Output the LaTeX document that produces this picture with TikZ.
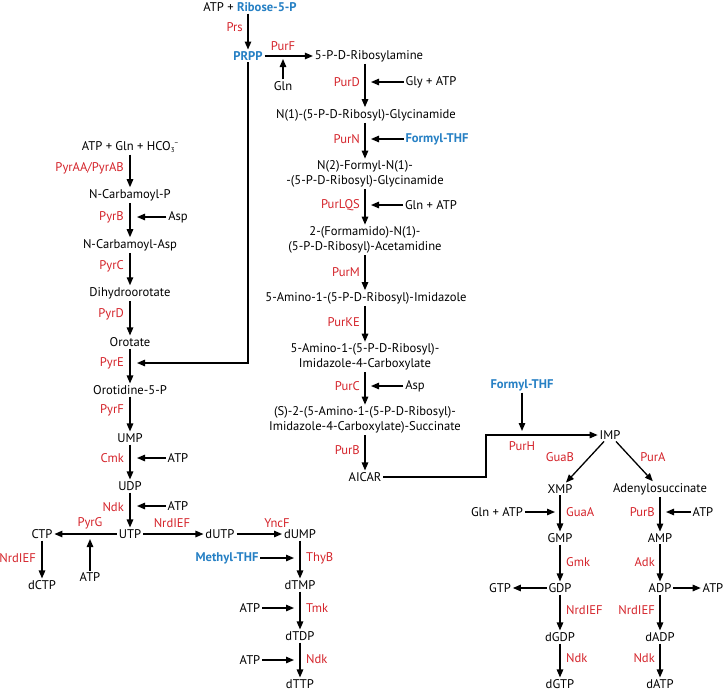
\documentclass[tikz,border=0pt]{standalone}
\usepackage{fontspec}
\setmainfont{PT Sans}
\usetikzlibrary{arrows.meta}
\definecolor{ered}{RGB}{212,35,42}
\definecolor{mblue}{RGB}{38,128,196}
\begin{document}
\begin{tikzpicture}[x=1pt,y=-1pt,
  font=\fontsize{12.6}{15}\selectfont,
  met/.style={inner sep=1.8pt, text=black},
  enz/.style={text=ered, inner sep=0pt},
  enzl/.style={enz, anchor=east},
  enzr/.style={enz, anchor=west},
  cof/.style={met, text=mblue, font=\fontsize{12.6}{15}\selectfont\bfseries},
  arr/.style={-{Triangle[length=8pt,width=6.5pt]}, line width=1.3pt},
]
\useasboundingbox (0,0) rectangle (728,691);

% ---------- top: PRPP ----------
\node[met] (atprib) at (250,7) {ATP + \textcolor{mblue}{\bfseries Ribose-5-P}};
\node[cof] (prpp) at (248,56) {PRPP};
\draw[arr] (atprib.south -| prpp.north) -- (prpp.north);
\node[enzl] (eprs) at (243,27) {Prs};
\node[met] (ribam) at (369,56) {5-P-D-Ribosylamine};
\draw[arr] (prpp) -- (ribam);
\node[enz] (epurf) at (283,46) {PurF};
\node[met] (gln1) at (283,86) {Gln};
\coordinate (cpurf) at (283,59);
\draw[arr] (gln1) -- (cpurf);

% ---------- purine column ----------
\coordinate (mx) at (365,0);
\node[met] (glyc) at (366,115) {N(1)-(5-P-D-Ribosyl)-Glycinamide};
\draw[arr] (ribam.south -| mx) -- (glyc.north -| mx);
\node[enzl] (epurd) at (360,82) {PurD};
\node[met] (glyatp) at (431,82) {Gly + ATP};
\coordinate (cpurd) at (371,82);
\draw[arr] (glyatp) -- (cpurd);

\node[met,align=center] (fglyc) at (365,174) {N(2)-Formyl-N(1)-\\-(5-P-D-Ribosyl)-Glycinamide};
\draw[arr] (glyc.south -| mx) -- (fglyc.north -| mx);
\node[enzl] (epurn) at (360,139) {PurN};
\node[cof] (fthf1) at (437,139) {Formyl-THF};
\coordinate (cpurn) at (371,139);
\draw[arr] (fthf1) -- (cpurn);

\node[met,align=center] (formam) at (365,240) {2-(Formamido)-N(1)-\\(5-P-D-Ribosyl)-Acetamidine};
\draw[arr] (fglyc.south -| mx) -- (formam.north -| mx);
\node[enzl] (epurlqs) at (360,205) {PurLQS};
\node[met] (glnatp1) at (431,205) {Gln + ATP};
\coordinate (cpurlqs) at (371,205);
\draw[arr] (glnatp1) -- (cpurlqs);

\node[met] (air) at (366,298) {5-Amino-1-(5-P-D-Ribosyl)-Imidazole};
\draw[arr] (formam.south -| mx) -- (air.north -| mx);
\node[enzl] (epurm) at (360,272) {PurM};

\node[met,align=center] (cair) at (365,357) {5-Amino-1-(5-P-D-Ribosyl)-\\Imidazole-4-Carboxylate};
\draw[arr] (air.south -| mx) -- (cair.north -| mx);
\node[enzl] (epurke) at (360,322) {PurKE};

\node[met,align=center] (saicar) at (365,420) {(S)-2-(5-Amino-1-(5-P-D-Ribosyl)-\\Imidazole-4-Carboxylate)-Succinate};
\draw[arr] (cair.south -| mx) -- (saicar.north -| mx);
\node[enzl] (epurc) at (360,386) {PurC};
\node[met] (asp2) at (415,386) {Asp};
\coordinate (cpurc) at (371,386);
\draw[arr] (asp2) -- (cpurc);

\node[met] (aicar) at (365,477) {AICAR};
\draw[arr] (saicar.south -| mx) -- (aicar.north -| mx);
\node[enzl] (epurb) at (360,450) {PurB};

% ---------- IMP branch ----------
\node[met] (imp) at (610,435) {IMP};
\coordinate (k1) at (486,477);
\coordinate (k2) at (486,435);
\draw[arr] (aicar) -- (k1) -- (k2) -- (imp);
\node[cof] (fthf2) at (522,385) {Formyl-THF};
\coordinate (cpurh) at (522,431);
\draw[arr] (fthf2) -- (cpurh);
\node[enz] (epurh) at (522,446) {PurH};

\node[met] (xmp) at (560,489) {XMP};
\node[met] (adsucc) at (660,489) {Adenylosuccinate};
\draw[arr] (imp) -- (xmp);
\draw[arr] (imp) -- (adsucc);
\node[enz] (eguab) at (560,457) {GuaB};
\node[enz] (epura) at (653,457) {PurA};

\node[met] (gmp) at (560,538) {GMP};
\draw[arr] (xmp) -- (gmp);
\node[enzr] (eguaa) at (566,512) {GuaA};
\node[met] (glnatp2) at (497,512) {Gln + ATP};
\coordinate (cguaa) at (555,512);
\draw[arr] (glnatp2) -- (cguaa);

\node[met] (amp) at (660,538) {AMP};
\draw[arr] (adsucc.south -| amp) -- (amp);
\node[enzl] (epurb2) at (655,512) {PurB};
\node[met] (atpa) at (703,512) {ATP};
\coordinate (cpurb2) at (666,512);
\draw[arr] (atpa) -- (cpurb2);

\node[met] (gdp) at (560,588) {GDP};
\draw[arr] (gmp) -- (gdp);
\node[enzr] (egmk) at (566,562) {Gmk};
\node[met] (gtp) at (500,588) {GTP};
\draw[arr] (gdp) -- (gtp);

\node[met] (adp) at (660,588) {ADP};
\draw[arr] (amp) -- (adp);
\node[enzl] (eadk) at (655,562) {Adk};
\node[met] (atpb) at (713,588) {ATP};
\draw[arr] (adp) -- (atpb);

\node[met] (dgdp) at (560,637) {dGDP};
\draw[arr] (gdp) -- (dgdp);
\node[enzr] (enrd2) at (566,610) {NrdIEF};
\node[met] (dadp) at (660,637) {dADP};
\draw[arr] (adp) -- (dadp);
\node[enzl] (enrd3) at (655,610) {NrdIEF};

\node[met] (dgtp) at (560,684) {dGTP};
\draw[arr] (dgdp) -- (dgtp);
\node[enzr] (endk3) at (566,658) {Ndk};
\node[met] (datp) at (660,684) {dATP};
\draw[arr] (dadp) -- (datp);
\node[enzl] (endk4) at (655,658) {Ndk};

% ---------- pyrimidine column ----------
\node[met] (atpgln) at (130,147) {ATP + Gln + HCO\raisebox{-0.35ex}{\scriptsize 3}\raisebox{0.75ex}{\scriptsize −}};
\node[met] (cp) at (130,195) {N-Carbamoyl-P};
\draw[arr] (atpgln.south -| cp) -- (cp);
\node[enzl] (epyra) at (124,168) {PyrAA/PyrAB};

\node[met] (ca) at (130,245) {N-Carbamoyl-Asp};
\draw[arr] (cp) -- (ca);
\node[enzl] (epyrb) at (124,217) {PyrB};
\node[met] (asp1) at (178,217) {Asp};
\coordinate (cpyrb) at (137,217);
\draw[arr] (asp1) -- (cpyrb);

\node[met] (dho) at (130,293) {Dihydroorotate};
\draw[arr] (ca) -- (dho);
\node[enzl] (epyrc) at (124,266) {PyrC};

\node[met] (oro) at (130,342) {Orotate};
\draw[arr] (dho) -- (oro);
\node[enzl] (epyrd) at (124,314) {PyrD};

\node[met] (omp) at (130,390) {Orotidine-5-P};
\draw[arr] (oro) -- (omp);
\node[enzl] (epyre) at (124,363) {PyrE};
\coordinate (p1) at (248,363);
\coordinate (cpyre) at (137,363);
\draw[arr] (prpp) -- (p1) -- (cpyre);

\node[met] (ump) at (130,438) {UMP};
\draw[arr] (omp) -- (ump);
\node[enzl] (epyrf) at (124,410) {PyrF};

\node[met] (udp) at (130,486) {UDP};
\draw[arr] (ump) -- (udp);
\node[enzl] (ecmk) at (124,458) {Cmk};
\node[met] (atp1) at (178,458) {ATP};
\coordinate (ccmk) at (137,458);
\draw[arr] (atp1) -- (ccmk);

\node[met] (utp) at (130,534) {UTP};
\draw[arr] (udp) -- (utp);
\node[enzl] (endk1) at (124,507) {Ndk};
\node[met] (atp2) at (178,506) {ATP};
\coordinate (cndk1) at (137,506);
\draw[arr] (atp2) -- (cndk1);

\node[met] (ctp) at (42,534) {CTP};
\draw[arr] (utp) -- (ctp);
\node[enz] (epyrg) at (90,523) {PyrG};
\node[met] (atp3) at (90,577) {ATP};
\coordinate (cpyrg) at (90,539);
\draw[arr] (atp3) -- (cpyrg);
\node[met] (dctp) at (42,585) {dCTP};
\draw[arr] (ctp) -- (dctp);
\node[enzl] (enrd1) at (36,558) {NrdIEF};

\node[met] (dutp) at (220,534) {dUTP};
\draw[arr] (utp) -- (dutp);
\node[enz] (enrd0) at (172,523) {NrdIEF};

\node[met] (dump) at (300,534) {dUMP};
\draw[arr] (dutp) -- (dump);
\node[enz] (eyncf) at (277,523) {YncF};

\node[met] (dtmp) at (300,585) {dTMP};
\draw[arr] (dump) -- (dtmp);
\node[enzr] (ethyb) at (306,558) {ThyB};
\node[cof] (mthf) at (227,558) {Methyl-THF};
\coordinate (cthyb) at (294,558);
\draw[arr] (mthf) -- (cthyb);

\node[met] (dtdp) at (300,636) {dTDP};
\draw[arr] (dtmp) -- (dtdp);
\node[enzr] (etmk) at (306,608) {Tmk};
\node[met] (atp4) at (250,608) {ATP};
\coordinate (ctmk) at (294,608);
\draw[arr] (atp4) -- (ctmk);

\node[met] (dttp) at (300,684) {dTTP};
\draw[arr] (dtdp) -- (dttp);
\node[enzr] (endk2) at (306,659) {Ndk};
\node[met] (atp5) at (250,660) {ATP};
\coordinate (cndk2) at (294,660);
\draw[arr] (atp5) -- (cndk2);
\end{tikzpicture}
\end{document}
